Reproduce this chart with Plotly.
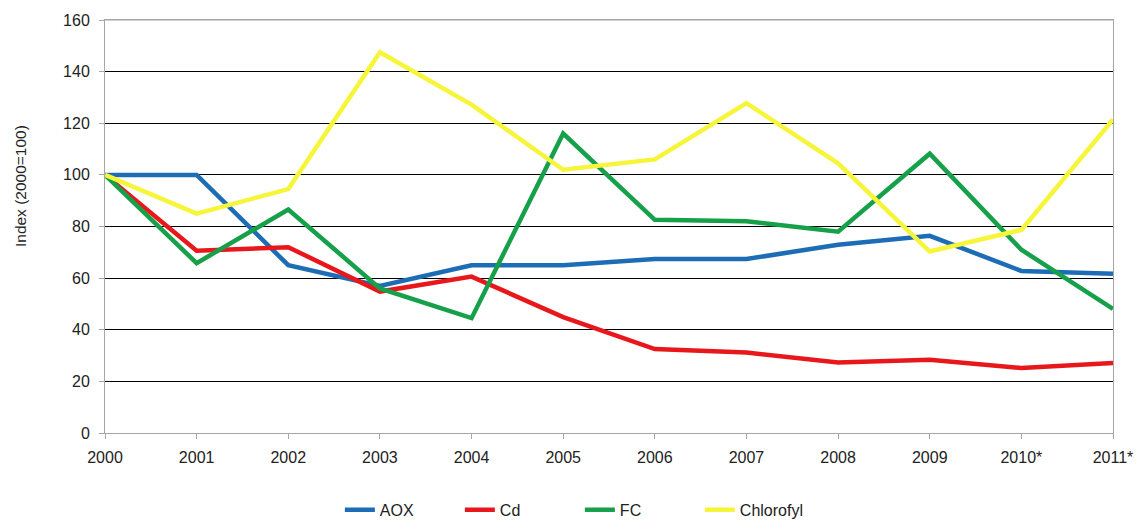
import plotly.graph_objects as go

years = ["2000", "2001", "2002", "2003", "2004", "2005", "2006", "2007", "2008", "2009", "2010*", "2011*"]
aox = [100, 100, 65, 57, 65, 65, 67.4, 67.4, 72.9, 76.4, 62.8, 61.7]
cd = [100, 70.6, 72, 54.8, 60.6, 44.9, 32.5, 31.2, 27.3, 28.4, 25.2, 27.1]
fc = [100, 65.8, 86.6, 56, 44.5, 116, 82.6, 82, 78, 108.2, 71, 48.1]
chlorofyl = [100, 85, 94.5, 147.5, 127.2, 102, 106, 127.8, 104.5, 70.3, 78.7, 121.5]

series = [
    ("AOX", aox, "#1c6db5"),
    ("Cd", cd, "#e8171c"),
    ("FC", fc, "#17a04a"),
    ("Chlorofyl", chlorofyl, "#f6f53a"),
]

fig = go.Figure()
for name, vals, col in series:
    fig.add_trace(go.Scatter(x=years, y=vals, name=name, mode="lines",
                             line=dict(color=col, width=4.5)))

fig.update_layout(
    width=1139, height=520,
    margin=dict(l=105, r=26, t=20, b=87, autoexpand=False),
    paper_bgcolor="white", plot_bgcolor="white",
    font=dict(family="Liberation Sans, Arial, sans-serif", size=16, color="#222222"),
    showlegend=True,
    legend=dict(orientation="h", x=0.233, xanchor="left", y=-0.186, yanchor="middle",
                font=dict(size=16), entrywidth=75, entrywidthmode="pixels"),
    annotations=[dict(text="Index (2000=100)", textangle=-90, xref="paper", yref="paper",
                      x=-0.0843, y=0.598, xanchor="center", yanchor="middle",
                      showarrow=False, font=dict(size=15.5, color="#222222"))],
    shapes=[dict(type="line", xref="paper", yref="paper", x0=0, x1=1, y0=1, y1=1,
                 line=dict(color="#a6a6a6", width=1), layer="above")],
)
fig.update_xaxes(type="category", range=[0, 11], showgrid=False, showline=True,
                 linecolor="#a6a6a6", linewidth=1, mirror=True,
                 ticks="outside", ticklen=5, tickcolor="#a6a6a6",
                 tickfont=dict(size=16), zeroline=False, automargin=False,
                 ticklabelstandoff=5)
fig.update_yaxes(range=[0, 160], dtick=20, showgrid=True, gridcolor="#000000", gridwidth=1,
                 showline=True, linecolor="#a6a6a6", linewidth=1, mirror=True,
                 ticks="outside", ticklen=5, tickcolor="#a6a6a6",
                 tickfont=dict(size=16), zeroline=False, automargin=False,
                 ticklabelstandoff=6)

fig.write_html("out.html", config={"displayModeBar": False},
               post_script="document.body.style.margin='0';document.body.style.overflow='hidden';")
